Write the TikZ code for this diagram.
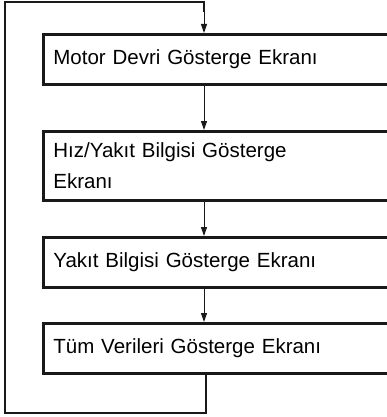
\documentclass[tikz,border=0pt]{standalone}
\usepackage{fontspec}
\setmainfont{Liberation Sans}
\usetikzlibrary{arrows.meta}
\begin{document}
\begin{tikzpicture}[x=1pt,y=-1pt,
  box/.style={draw=black!90, line width=2.8pt, anchor=north west, minimum width=350pt,
    text width=330pt, align=left, inner xsep=10pt, font=\fontsize{20.5}{31}\selectfont},
  link/.style={draw=black!90, line width=1pt, -{Triangle[length=9pt,width=6pt]}},
  loop/.style={draw=black!90, line width=1.8pt}]
\useasboundingbox (0,0) rectangle (387,417);
\node[box, minimum height=50pt] (b1) at (42,33) {Motor Devri Gösterge Ekranı};
\node[box, minimum height=69pt] (b2) at (42,130) {Hız/Yakıt Bilgisi Gösterge\\Ekranı};
\node[box, minimum height=50pt] (b3) at (42,236) {Yakıt Bilgisi Gösterge Ekranı};
\node[box, minimum height=50pt] (b4) at (42,322) {Tüm Verileri Gösterge Ekranı};
\coordinate (ax) at (204,0);
\coordinate (bx) at (206,0);
\coordinate (c1) at (206,413);
\coordinate (c2) at (5,413);
\coordinate (c3) at (5,2);
\coordinate (c4) at (204,2);
\draw[link] (b1.south -| ax) -- (b2.north -| ax);
\draw[link] (b2.south -| ax) -- (b3.north -| ax);
\draw[link] (b3.south -| ax) -- (b4.north -| ax);
\draw[loop] (b4.south -| bx) -- (c1) -- (c2) -- (c3) -- (c4) -- ([yshift=-10pt]c4);
\draw[link] ([yshift=-10pt]c4) -- (b1.north -| ax);
\end{tikzpicture}
\end{document}
